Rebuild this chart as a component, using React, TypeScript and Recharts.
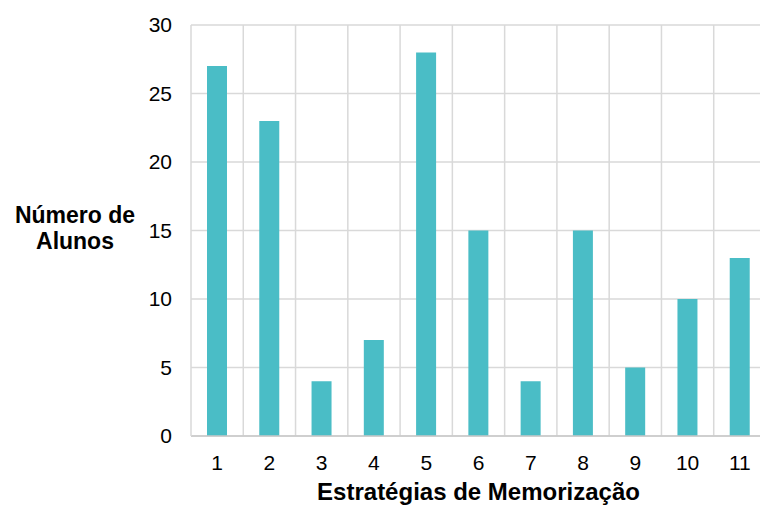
import { BarChart, Bar, XAxis, YAxis, CartesianGrid, Label } from 'recharts';

const estrategias = ['1', '2', '3', '4', '5', '6', '7', '8', '9', '10', '11'];
const alunos = [27, 23, 4, 7, 28, 15, 4, 15, 5, 10, 13];
const yTicks = [0, 5, 10, 15, 20, 25, 30];

const data = estrategias.map((e, i) => ({ estrategia: e, alunos: alunos[i] }));

const FONT = '"Liberation Sans", Arial, sans-serif';
const GRID = '#D9D9D9';

// grid lines on category boundaries instead of category centres
function boundaryLines({ offset }: any) {
  const step = offset.width / estrategias.length;
  return estrategias.map((_, i) => offset.left + (i + 1) * step);
}

function YTitle({ viewBox }: any) {
  const cy = viewBox.y + viewBox.height / 2;
  return (
    <text x={75} y={cy} textAnchor='middle' fontFamily={FONT} fontWeight='bold' fontSize={23} fill='#000'>
      <tspan x={75} dy={-7.5}>Número de</tspan>
      <tspan x={75} dy={26}>Alunos</tspan>
    </text>
  );
}

function XTitle({ viewBox }: any) {
  return (
    <text x={viewBox.x + viewBox.width / 2} y={500} textAnchor='middle' fontFamily={FONT} fontWeight='bold' fontSize={24} fill='#000'>
      Estratégias de Memorização
    </text>
  );
}

export default function App() {
  return (
    <div style={{ position: 'fixed', left: 0, top: 0, width: 760, height: 506, overflow: 'hidden', background: '#fff' }}>
      <BarChart width={780} height={506} data={data} margin={{ top: 25, right: 14, left: 0, bottom: 0 }}>
        <CartesianGrid stroke={GRID} strokeWidth={1.5} verticalCoordinatesGenerator={boundaryLines} />
        <XAxis
          dataKey='estrategia'
          height={70}
          tickLine={false}
          tickMargin={13}
          axisLine={{ stroke: '#C8C8C8', strokeWidth: 1.5 }}
          tick={{ fill: '#000', fontSize: 21, fontFamily: FONT }}
          interval={0}
        >
          <Label content={<XTitle />} />
        </XAxis>
        <YAxis
          width={191}
          domain={[0, 30]}
          ticks={yTicks}
          tickLine={false}
          tickMargin={13}
          axisLine={{ stroke: GRID, strokeWidth: 1.5 }}
          tick={{ fill: '#000', fontSize: 21, fontFamily: FONT }}
        >
          <Label content={<YTitle />} />
        </YAxis>
        <Bar dataKey='alunos' fill='#4ABDC6' barSize={20} isAnimationActive={false} />
      </BarChart>
    </div>
  );
}
